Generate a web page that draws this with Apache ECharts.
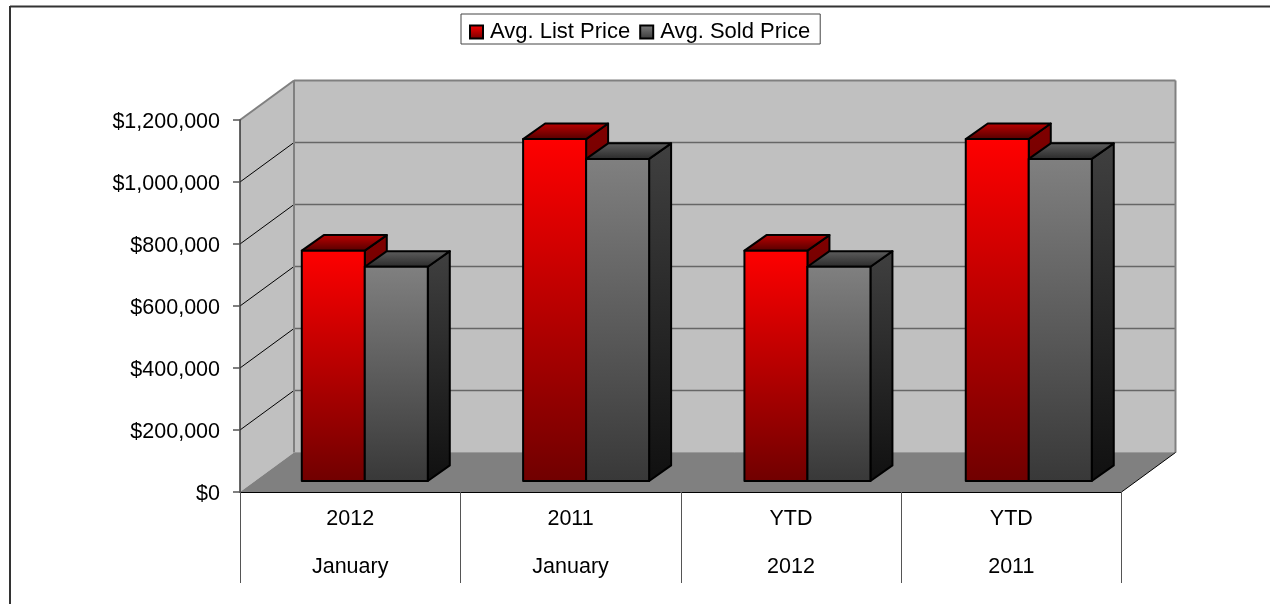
<!doctype html>
<html>
<head>
<meta charset="utf-8">
<title>Avg. List Price / Avg. Sold Price</title>
<style>
html,body{margin:0;padding:0;background:#fff}
#chart{width:1270px;height:604px}
</style>
</head>
<body>
<div id="chart"></div>
<script src="https://cdn.jsdelivr.net/npm/echarts@6/dist/echarts.min.js"></script>
<script>
var topLabels = ['2012', '2011', 'YTD', 'YTD'];
var bottomLabels = ['January', 'January', '2012', '2011'];
var listPrice = [743000, 1103000, 743000, 1103000];
var soldPrice = [691000, 1039000, 691000, 1039000];
var yTicks = [0, 200000, 400000, 600000, 800000, 1000000, 1200000];

var font = '"Liberation Sans", Arial, sans-serif';
var fontSize = 21.5;

// 3d look, pixels
var wallDx = 54, wallDy = 39.5;    // front plane to back wall
var barDx = 22, barDy = 15.6;      // depth of one bar
var shiftX = 14.6, shiftY = 11;    // bars stand a bit behind the front plane
var barW = 63;
var bandExtra = 0.95;              // bars are spaced a little wider than the ticks

function vgrad(a, b) {
	return new echarts.graphic.LinearGradient(0, 0, 0, 1, [{offset: 0, color: a}, {offset: 1, color: b}]);
}

function poly(points, fill, stroke, width) {
	return {
		type: 'polygon',
		shape: {points: points},
		style: {fill: fill, stroke: stroke, lineWidth: width, lineJoin: 'round'}
	};
}

function line(x1, y1, x2, y2, color, width) {
	return {
		type: 'line',
		shape: {x1: x1, y1: y1, x2: x2, y2: y2},
		style: {stroke: color, lineWidth: width}
	};
}

// walls and floor, drawn once from the first tick
function renderWalls(params, api) {
	if (params.dataIndex !== 0) return {type: 'group', children: []};
	var cs = params.coordSys;
	var l = cs.x, r = cs.x + cs.width, t = cs.y, b = cs.y + cs.height;
	var kids = [
		poly([[l, t], [l + wallDx, t - wallDy], [l + wallDx, b - wallDy], [l, b]], '#c0c0c0', null, 0),
		poly([[l + wallDx, t - wallDy], [r + wallDx, t - wallDy], [r + wallDx, b - wallDy], [l + wallDx, b - wallDy]], '#c0c0c0', null, 0)
	];
	for (var i = 1; i < yTicks.length - 1; i++) {
		var y = api.coord([0, yTicks[i]])[1];
		kids.push(line(l, y, l + wallDx, y - wallDy, '#000', 1));
		kids.push(line(l + wallDx, y - wallDy, r + wallDx, y - wallDy, '#666', 1.5));
	}
	kids.push(poly([[l, b], [l + wallDx, b - wallDy], [r + wallDx, b - wallDy], [r, b]], '#808080', null, 0));
	kids.push(line(l, t, l + wallDx, t - wallDy, '#808080', 2));
	kids.push(line(l + wallDx, t - wallDy, r + wallDx, t - wallDy, '#808080', 2));
	kids.push(line(l + wallDx, t - wallDy, l + wallDx, b - wallDy, '#808080', 2));
	kids.push(line(r + wallDx, t - wallDy, r + wallDx, b - wallDy, '#808080', 2));
	kids.push(line(l + wallDx, b - wallDy, r + wallDx, b - wallDy, '#999', 1));
	kids.push(line(r, b, r + wallDx, b - wallDy, '#000', 1));
	return {type: 'group', children: kids};
}

function barRenderer(slot, front, side, topFace) {
	return function (params, api) {
		var idx = api.value(0);
		var top = api.coord([idx, api.value(1)]);
		var base = api.coord([idx, 0]);
		var x = base[0] + shiftX + idx * bandExtra + (slot - 1) * barW;
		var y0 = base[1] - shiftY;
		var y1 = top[1] - shiftY;
		var x2 = x + barW;
		return {
			type: 'group',
			children: [
				poly([[x2, y1], [x2 + barDx, y1 - barDy], [x2 + barDx, y0 - barDy], [x2, y0]], side, '#000', 2),
				poly([[x, y1], [x + barDx, y1 - barDy], [x2 + barDx, y1 - barDy], [x2, y1]], topFace, '#000', 2),
				poly([[x, y1], [x2, y1], [x2, y0], [x, y0]], front, '#000', 2)
			]
		};
	};
}

var chart = echarts.init(document.getElementById('chart'), null, {renderer: 'canvas'});
chart.setOption({
	animation: false,
	backgroundColor: '#fff',
	textStyle: {fontFamily: font},
	graphic: [
		{type: 'line', shape: {x1: 10, y1: 6.5, x2: 1270, y2: 6.5}, style: {stroke: '#333', lineWidth: 2}},
		{type: 'line', shape: {x1: 10, y1: 6, x2: 10, y2: 604}, style: {stroke: '#333', lineWidth: 2}}
	],
	legend: {
		left: 461,
		top: 14,
		padding: [7, 10, 1, 8],
		orient: 'horizontal',
		data: ['Avg. List Price', 'Avg. Sold Price'],
		backgroundColor: '#fff',
		borderColor: '#444',
		borderWidth: 1,
		borderRadius: 0,
		itemWidth: 13,
		itemHeight: 13,
		itemGap: 9,
		icon: 'rect',
		textStyle: {fontFamily: font, fontSize: 22, color: '#000', padding: [2, 0, 0, 2]}
	},
	grid: {left: 240, top: 120, width: 881.5, height: 372, containLabel: false},
	xAxis: {
		type: 'category',
		z: 5,
		data: topLabels.map(function (t, i) { return t + '\n' + bottomLabels[i]; }),
		axisLine: {show: true, lineStyle: {color: '#000', width: 1}},
		axisTick: {show: true, length: 91, alignWithLabel: false, lineStyle: {color: '#555', width: 1}},
		axisLabel: {interval: 0, color: '#000', fontFamily: font, fontSize: fontSize, lineHeight: 48, margin: 3},
		splitLine: {show: false}
	},
	yAxis: {
		type: 'value',
		z: 5,
		min: 0,
		max: 1200000,
		interval: 200000,
		axisLine: {show: true, lineStyle: {color: '#333', width: 1.5}},
		axisTick: {show: true, length: 7, lineStyle: {color: '#555', width: 1.5}},
		axisLabel: {
			color: '#000', fontFamily: font, fontSize: fontSize, margin: 20,
			verticalAlign: 'top', lineHeight: 22, padding: [-9, 0, 0, 0],
			formatter: function (v) { return '$' + v.toString().replace(/\B(?=(\d{3})+$)/g, ','); }
		},
		splitLine: {show: false}
	},
	series: [
		{
			name: 'walls',
			type: 'custom',
			z: 1,
			silent: true,
			renderItem: renderWalls,
			data: yTicks.map(function (t) { return [0, t]; }),
			encode: {x: 0, y: 1}
		},
		{
			name: 'Avg. List Price',
			type: 'custom',
			z: 2,
			renderItem: barRenderer(0, vgrad('#ff0000', '#700000'), vgrad('#800000', '#380000'), vgrad('#c00000', '#500000')),
			itemStyle: {color: vgrad('#ff0000', '#700000'), borderColor: '#000', borderWidth: 1.5},
			data: listPrice.map(function (v, i) { return [i, v]; }),
			encode: {x: 0, y: 1}
		},
		{
			name: 'Avg. Sold Price',
			type: 'custom',
			z: 3,
			renderItem: barRenderer(1, vgrad('#808080', '#383838'), vgrad('#404040', '#101010'), vgrad('#606060', '#282828')),
			itemStyle: {color: vgrad('#808080', '#383838'), borderColor: '#000', borderWidth: 1.5},
			data: soldPrice.map(function (v, i) { return [i, v]; }),
			encode: {x: 0, y: 1}
		}
	]
});
</script>
</body>
</html>
